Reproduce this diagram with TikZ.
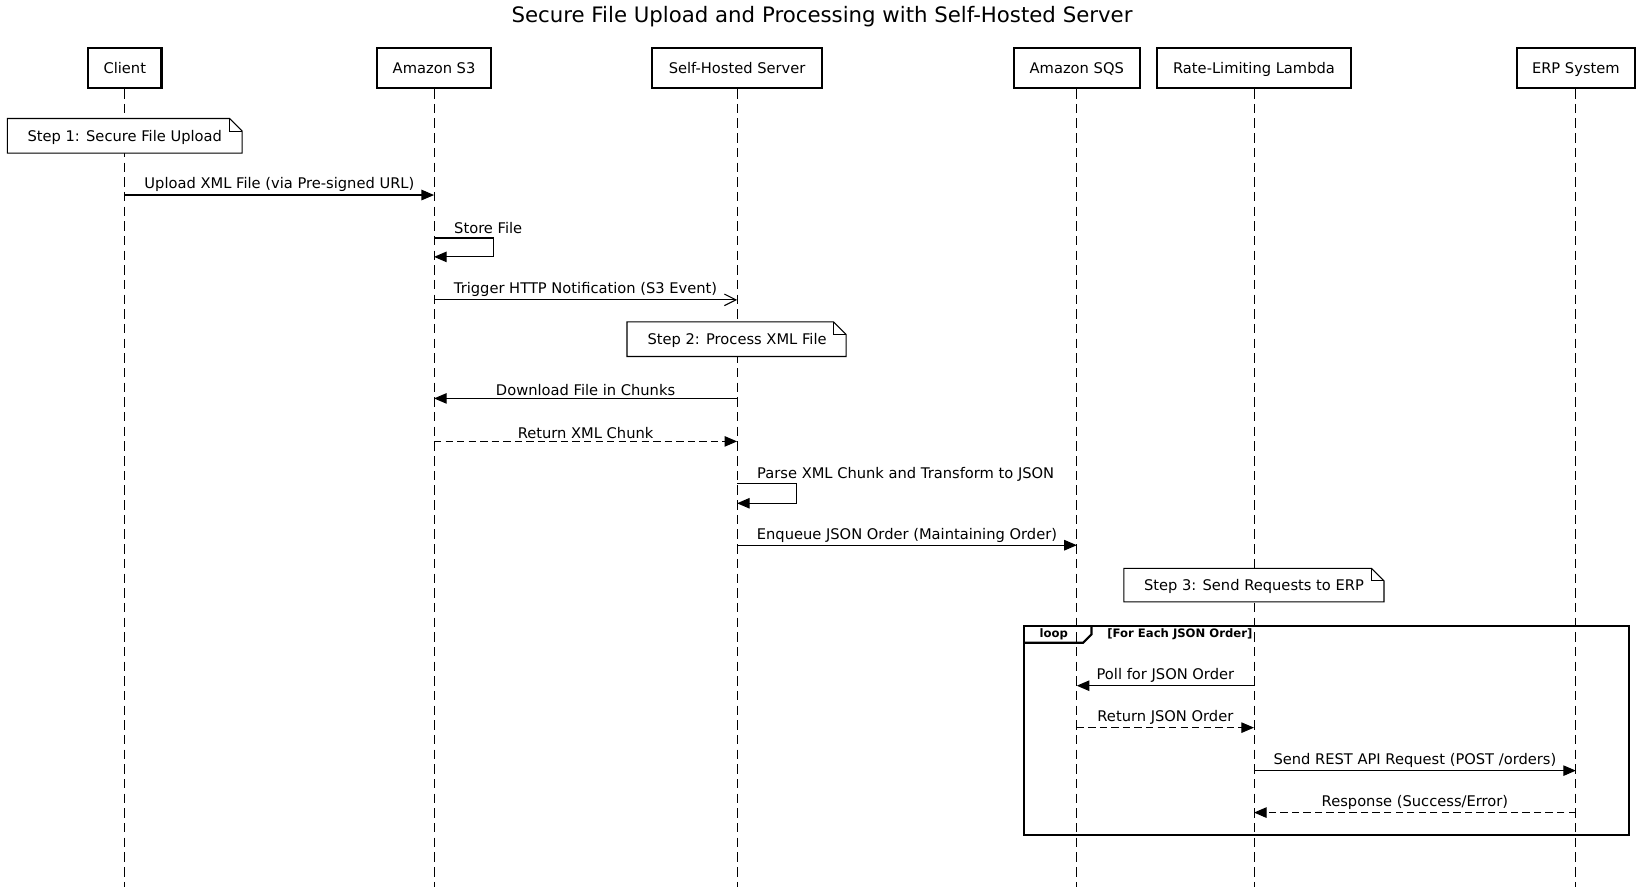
\documentclass[tikz,border=0pt]{standalone}
\usepackage{fontspec}
\setmainfont{DejaVu Sans}
\usetikzlibrary{arrows.meta}
\begin{document}
\begin{tikzpicture}[x=1pt,y=-1pt,
  actor/.style={draw, line width=2pt, minimum height=38pt, inner sep=0pt, text height=13pt, text depth=3pt, font=\fontsize{14}{16}\selectfont},
  life/.style={line width=0.9pt, dash pattern=on 9pt off 5pt},
  msg/.style={line width=1pt, -{Triangle[length=12pt,width=10pt]}},
  ret/.style={msg, dash pattern=on 7pt off 4pt},
  async/.style={line width=1pt, -{Straight Barb[length=11pt,width=11pt,line width=1pt]}},
  lbl/.style={font=\fontsize{14}{16}\selectfont, inner sep=0pt},
  notetxt/.style={lbl, text height=10.5pt, text depth=3pt},
  notebox/.style={draw, fill=white, line width=1pt},
  bold/.style={font=\fontsize{11.1}{13}\selectfont\bfseries, inner sep=0pt, text height=8.5pt, text depth=2.5pt}
]
\useasboundingbox (0,0) rectangle (1568,846);
\node[font=\fontsize{20.3}{24}\selectfont] (title) at (784,15.5) {Secure File Upload and Processing with Self-Hosted Server};

% actors
\node[actor, minimum width=70pt] (client) at (119,65) {Client};
\node[actor, minimum width=109pt] (s3) at (414,65) {Amazon S3};
\node[actor, minimum width=162pt] (srv) at (703,65) {Self-Hosted Server};
\node[actor, minimum width=120pt] (sqs) at (1027,65) {Amazon SQS};
\node[actor, minimum width=185pt] (lam) at (1196,65) {Rate-Limiting Lambda};
\node[actor, minimum width=113pt] (erp) at (1503,65) {ERP System};

% lifelines
\coordinate (clientB) at (119,846);
\coordinate (s3B) at (414,846);
\coordinate (srvB) at (703,846);
\coordinate (sqsB) at (1027,846);
\coordinate (lamB) at (1196,846);
\coordinate (erpB) at (1503,846);
\draw[life] (client.south) -- (clientB);
\draw[life] (s3.south) -- (s3B);
\draw[life] (srv.south) -- (srvB);
\draw[life] (sqs.south) -- (sqsB);
\draw[life] (lam.south) -- (lamB);
\draw[life] (erp.south) -- (erpB);

% notes
\draw[notebox] (7,113) -- (219,113) -- (231,125) -- (231,146) -- (7,146) -- cycle;
\draw[line width=1pt] (219,113) -- (219,125) -- (231,125);
\node[notetxt] (note1) at (119,131) {Step 1: Secure File Upload};

\draw[notebox] (598,307) -- (795,307) -- (807,319) -- (807,340) -- (598,340) -- cycle;
\draw[line width=1pt] (795,307) -- (795,319) -- (807,319);
\node[notetxt] (note2) at (703,325) {Step 2: Process XML File};

\draw[notebox] (1072,542) -- (1308,542) -- (1320,554) -- (1320,574) -- (1072,574) -- cycle;
\draw[line width=1pt] (1308,542) -- (1308,554) -- (1320,554);
\node[notetxt] (note3) at (1196,559.5) {Step 3: Send Requests to ERP};

% message 1
\coordinate (m1a) at (119,186); \coordinate (m1b) at (414,186);
\draw[msg] (m1a) -- node[lbl, above=2.5pt] (l1) {Upload XML File (via Pre-signed URL)} (m1b);

% store file self loop
\coordinate (m2a) at (414,227); \coordinate (m2b) at (471,227);
\coordinate (m2c) at (471,245); \coordinate (m2d) at (414,245);
\draw[msg] (m2a) -- (m2b) -- (m2c) -- (m2d);
\node[lbl, anchor=base west] (l2) at (433,222.5) {Store File};

% trigger
\coordinate (m3a) at (414,286); \coordinate (m3b) at (703,286);
\draw[async] (m3a) -- node[lbl, above=2.5pt] (l3) {Trigger HTTP Notification (S3 Event)} (m3b);

% download
\coordinate (m4a) at (703,380); \coordinate (m4b) at (414,380);
\draw[msg] (m4a) -- node[lbl, above=2.5pt] (l4) {Download File in Chunks} (m4b);

% return chunk
\coordinate (m5a) at (414,421); \coordinate (m5b) at (703,421);
\draw[ret] (m5a) -- node[lbl, above=2.5pt] (l5) {Return XML Chunk} (m5b);

% parse self loop
\coordinate (m6a) at (703,461); \coordinate (m6b) at (760,461);
\coordinate (m6c) at (760,480); \coordinate (m6d) at (703,480);
\draw[msg] (m6a) -- (m6b) -- (m6c) -- (m6d);
\node[lbl, anchor=base west] (l6) at (722,456.5) {Parse XML Chunk and Transform to JSON};

% enqueue
\coordinate (m7a) at (703,520); \coordinate (m7b) at (1027,520);
\draw[msg] (m7a) -- node[lbl, above=2.5pt] (l7) {Enqueue JSON Order (Maintaining Order)} (m7b);

% loop frame
\draw[line width=2pt] (977,597) rectangle (1554,796);
\draw[line width=2pt] (977,613) -- (1033,613) -- (1041,605) -- (1041,597);
\node[bold] (looplbl) at (1005,605) {loop};
\node[bold, anchor=west] (cond) at (1056,605) {[For Each JSON Order]};

% poll
\coordinate (m8a) at (1196,654); \coordinate (m8b) at (1027,654);
\draw[msg] (m8a) -- node[lbl, above=2.5pt] (l8) {Poll for JSON Order} (m8b);

% return json
\coordinate (m9a) at (1027,694); \coordinate (m9b) at (1196,694);
\draw[ret] (m9a) -- node[lbl, above=2.5pt] (l9) {Return JSON Order} (m9b);

% send rest
\coordinate (m10a) at (1196,735); \coordinate (m10b) at (1503,735);
\draw[msg] (m10a) -- node[lbl, above=2.5pt] (l10) {Send REST API Request (POST /orders)} (m10b);

% response
\coordinate (m11a) at (1503,775); \coordinate (m11b) at (1196,775);
\draw[ret] (m11a) -- node[lbl, above=2.5pt] (l11) {Response (Success/Error)} (m11b);
\end{tikzpicture}
\end{document}
